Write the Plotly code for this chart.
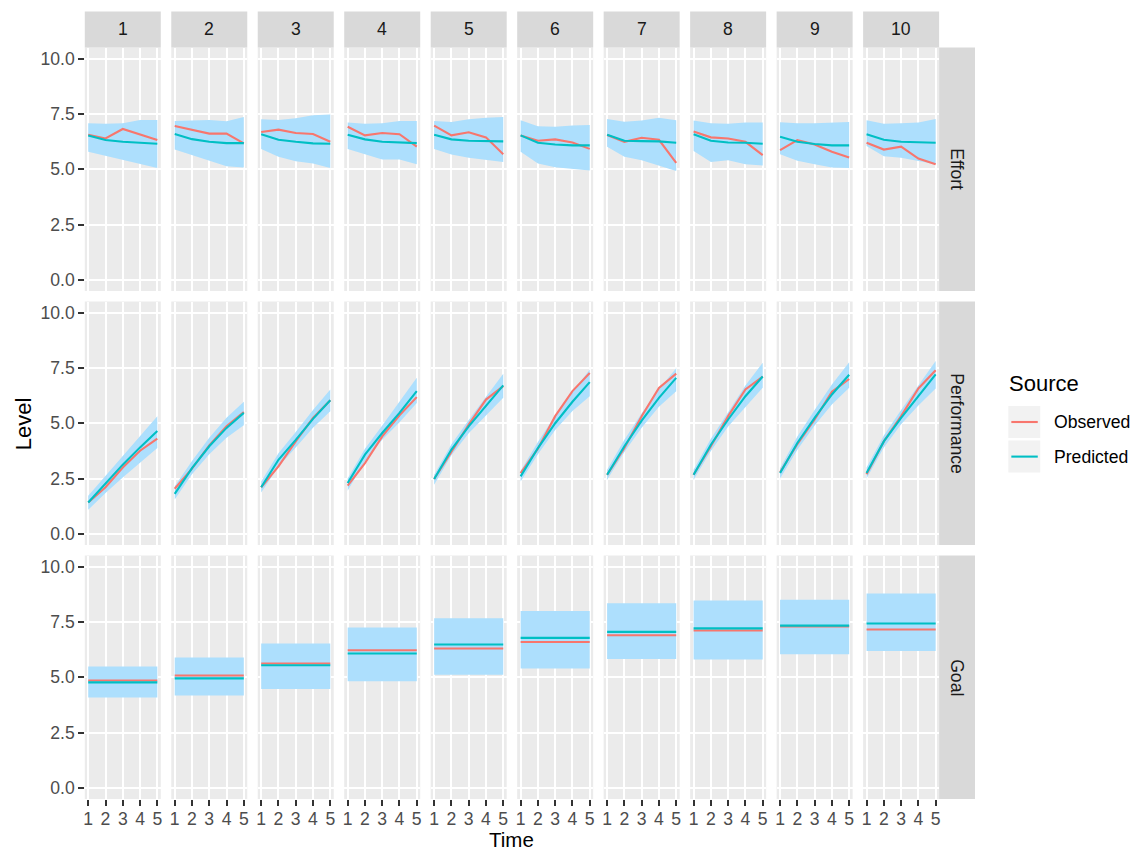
import plotly.graph_objects as go

# ---------------------------------------------------------------- data
time = [1, 2, 3, 4, 5]
groups = ["1", "2", "3", "4", "5", "6", "7", "8", "9", "10"]
measures = ["Effort", "Performance", "Goal"]
sources = ["Observed", "Predicted"]
y_ticks = [0, 2.5, 5, 7.5, 10]
y_tick_text = ["0.0", "2.5", "5.0", "7.5", "10.0"]

effort_obs = [
    [6.56, 6.39, 6.82, 6.58, 6.32],
    [6.95, 6.77, 6.61, 6.61, 6.17],
    [6.68, 6.79, 6.64, 6.59, 6.24],
    [6.92, 6.53, 6.64, 6.58, 6.02],
    [6.97, 6.53, 6.67, 6.44, 5.68],
    [6.53, 6.29, 6.35, 6.21, 5.92],
    [6.55, 6.24, 6.42, 6.33, 5.29],
    [6.70, 6.44, 6.39, 6.24, 5.64],
    [5.86, 6.32, 6.12, 5.79, 5.53],
    [6.20, 5.89, 6.02, 5.48, 5.23],
]
effort_pred = [
    [6.52, 6.32, 6.24, 6.18, 6.15],
    [6.59, 6.36, 6.24, 6.18, 6.18],
    [6.58, 6.33, 6.24, 6.17, 6.15],
    [6.56, 6.35, 6.24, 6.21, 6.18],
    [6.56, 6.35, 6.29, 6.26, 6.26],
    [6.53, 6.20, 6.12, 6.08, 6.08],
    [6.56, 6.29, 6.27, 6.26, 6.20],
    [6.58, 6.29, 6.21, 6.20, 6.15],
    [6.47, 6.24, 6.14, 6.08, 6.08],
    [6.58, 6.33, 6.24, 6.21, 6.20],
]
effort_lo = [
    [5.79, 5.61, 5.45, 5.26, 5.06],
    [5.89, 5.64, 5.41, 5.14, 5.08],
    [5.92, 5.56, 5.36, 5.26, 5.06],
    [5.92, 5.68, 5.44, 5.44, 5.23],
    [5.92, 5.67, 5.52, 5.41, 5.33],
    [5.79, 5.26, 5.09, 5.03, 4.94],
    [6.02, 5.56, 5.41, 5.18, 4.92],
    [5.82, 5.33, 5.41, 5.23, 5.17],
    [5.68, 5.38, 5.23, 5.08, 5.06],
    [6.05, 5.59, 5.52, 5.38, 5.23],
]
effort_hi = [
    [7.08, 7.05, 7.08, 7.23, 7.23],
    [7.18, 7.20, 7.23, 7.17, 7.36],
    [7.26, 7.23, 7.30, 7.44, 7.47],
    [7.11, 7.05, 7.08, 7.18, 7.18],
    [7.18, 7.14, 7.26, 7.33, 7.36],
    [7.21, 6.94, 6.92, 6.98, 7.00],
    [7.27, 7.15, 7.20, 7.33, 7.21],
    [7.20, 7.08, 7.05, 7.11, 7.11],
    [7.12, 7.08, 7.08, 7.11, 7.14],
    [7.21, 7.06, 7.08, 7.11, 7.27],
]

perf_obs = [
    [1.42, 2.11, 3.00, 3.76, 4.31],
    [2.04, 2.95, 4.00, 4.86, 5.51],
    [2.11, 3.05, 4.18, 5.24, 6.04],
    [2.18, 3.20, 4.41, 5.36, 6.18],
    [2.48, 3.73, 4.94, 6.07, 6.68],
    [2.75, 3.85, 5.32, 6.45, 7.27],
    [2.67, 3.88, 5.32, 6.60, 7.24],
    [2.67, 3.96, 5.32, 6.53, 7.11],
    [2.78, 4.06, 5.17, 6.42, 7.00],
    [2.70, 4.18, 5.32, 6.57, 7.39],
]
perf_pred = [
    [1.42, 2.28, 3.13, 3.91, 4.65],
    [1.81, 2.97, 3.96, 4.79, 5.47],
    [2.11, 3.35, 4.25, 5.20, 6.04],
    [2.30, 3.58, 4.56, 5.47, 6.45],
    [2.48, 3.81, 4.86, 5.77, 6.71],
    [2.60, 3.88, 5.00, 5.97, 6.86],
    [2.67, 3.96, 5.12, 6.15, 7.05],
    [2.67, 4.03, 5.17, 6.22, 7.11],
    [2.75, 4.11, 5.24, 6.30, 7.19],
    [2.75, 4.18, 5.24, 6.22, 7.21],
]
perf_lo = [
    [1.09, 1.85, 2.55, 3.20, 3.88],
    [1.55, 2.70, 3.60, 4.35, 4.91],
    [1.87, 3.05, 3.90, 4.80, 5.54],
    [1.95, 3.30, 4.25, 5.05, 5.92],
    [2.22, 3.55, 4.55, 5.35, 6.15],
    [2.37, 3.60, 4.70, 5.55, 6.22],
    [2.45, 3.70, 4.80, 5.75, 6.45],
    [2.45, 3.75, 4.85, 5.75, 6.60],
    [2.50, 3.80, 4.90, 5.85, 6.60],
    [2.50, 3.90, 4.95, 5.80, 6.57],
]
perf_hi = [
    [1.72, 2.62, 3.52, 4.42, 5.32],
    [2.15, 3.30, 4.35, 5.25, 5.97],
    [2.37, 3.65, 4.60, 5.60, 6.53],
    [2.50, 3.85, 4.90, 5.95, 7.05],
    [2.67, 4.05, 5.15, 6.20, 7.24],
    [2.85, 4.15, 5.35, 6.40, 7.43],
    [2.90, 4.25, 5.45, 6.55, 7.48],
    [2.90, 4.30, 5.50, 6.70, 7.73],
    [2.97, 4.40, 5.60, 6.75, 7.76],
    [3.00, 4.45, 5.60, 6.70, 7.81],
]

# goal is held constant over time within each group
goal_obs = [4.85, 5.08, 5.62, 6.22, 6.30, 6.59, 6.90, 7.11, 7.30, 7.16]
goal_pred = [4.77, 4.95, 5.54, 6.07, 6.48, 6.78, 7.05, 7.21, 7.33, 7.43]
goal_lo = [4.09, 4.17, 4.47, 4.82, 5.11, 5.39, 5.82, 5.80, 6.04, 6.19]
goal_hi = [5.48, 5.89, 6.53, 7.25, 7.66, 7.99, 8.34, 8.47, 8.50, 8.78]

# ---------------------------------------------------------------- styling
W, H = 1138, 852
FONT = "Liberation Sans, Arial, Helvetica, sans-serif"
COL_OBS = "#F8766D"
COL_PRED = "#00BFC4"
RIBBON = "rgb(173,223,253)"
PANEL_BG = "#EBEBEB"
STRIP_BG = "#D9D9D9"

LEFT, PITCH_X, PANEL_W = 84.0, 86.71, 76.2
TOP, PITCH_Y, PANEL_H = 47.5, 254.0, 243.5
STRIP = 36.0


def px_x(v):
    return v / W


def px_y(v):
    return 1 - v / H


def label(text, x, y, size, color="black", angle=0, xanchor="center",
          yanchor="middle"):
    return dict(text=text, xref="paper", yref="paper",
                x=px_x(x), y=px_y(y), xanchor=xanchor, yanchor=yanchor,
                textangle=angle, showarrow=False, borderpad=0,
                font=dict(family=FONT, size=size, color=color))


def series(measure, g):
    if measure == "Effort":
        return effort_obs[g], effort_pred[g], effort_lo[g], effort_hi[g]
    if measure == "Performance":
        return perf_obs[g], perf_pred[g], perf_lo[g], perf_hi[g]
    n = len(time)
    return ([goal_obs[g]] * n, [goal_pred[g]] * n,
            [goal_lo[g]] * n, [goal_hi[g]] * n)


fig = go.Figure()
layout = {}
shapes = []
annotations = []

for r, measure in enumerate(measures):
    y_top = TOP + r * PITCH_Y
    y_bot = y_top + PANEL_H
    for c, g in enumerate(groups):
        k = r * len(groups) + c + 1
        suffix = "" if k == 1 else str(k)
        xa, ya = "x" + suffix, "y" + suffix
        x_left = LEFT + c * PITCH_X
        x_right = x_left + PANEL_W

        obs, pred, lo, hi = series(measure, c)
        fig.add_trace(go.Scatter(x=time, y=lo, mode="lines",
                                 line=dict(width=0, color=RIBBON),
                                 showlegend=False, hoverinfo="skip",
                                 xaxis=xa, yaxis=ya))
        fig.add_trace(go.Scatter(x=time, y=hi, mode="lines",
                                 line=dict(width=0, color=RIBBON),
                                 fill="tonexty", fillcolor=RIBBON,
                                 showlegend=False, hoverinfo="skip",
                                 xaxis=xa, yaxis=ya))
        for name, vals, col in (("Observed", obs, COL_OBS),
                                ("Predicted", pred, COL_PRED)):
            fig.add_trace(go.Scatter(x=time, y=vals, mode="lines", name=name,
                                     line=dict(color=col, width=2.1),
                                     showlegend=False,
                                     xaxis=xa, yaxis=ya))

        bottom_row = r == len(measures) - 1
        first_col = c == 0
        layout["xaxis" + suffix] = dict(
            domain=[px_x(x_left), px_x(x_right)],
            range=[0.8, 5.2], anchor=ya,
            tickvals=time, ticktext=[str(t) for t in time],
            showgrid=True, gridcolor="white", gridwidth=2,
            zeroline=False, showline=False,
            ticks="outside" if bottom_row else "",
            ticklen=5.5, tickwidth=2.1, tickcolor="#333333",
            showticklabels=bottom_row, ticklabelstandoff=-2,
            tickfont=dict(family=FONT, size=17.6, color="#4D4D4D"),
            fixedrange=True,
        )
        layout["yaxis" + suffix] = dict(
            domain=[px_y(y_bot), px_y(y_top)],
            range=[-0.5, 10.5], anchor=xa,
            tickvals=y_ticks, ticktext=y_tick_text,
            showgrid=True, gridcolor="white", gridwidth=2,
            zeroline=False, showline=False,
            ticks="outside" if first_col else "",
            ticklen=5.5, tickwidth=2.1, tickcolor="#333333",
            showticklabels=first_col,
            tickfont=dict(family=FONT, size=17.6, color="#4D4D4D"),
            fixedrange=True,
        )

        # column strips along the top
        if r == 0:
            shapes.append(dict(type="rect", xref="paper", yref="paper",
                               x0=px_x(x_left), x1=px_x(x_right),
                               y0=px_y(y_top), y1=px_y(y_top - STRIP),
                               fillcolor=STRIP_BG, line=dict(width=0)))
            annotations.append(label(g, (x_left + x_right) / 2,
                                     y_top - STRIP / 2, 17.6, "#1A1A1A"))

    # row strips on the right
    x_edge = LEFT + (len(groups) - 1) * PITCH_X + PANEL_W
    shapes.append(dict(type="rect", xref="paper", yref="paper",
                       x0=px_x(x_edge), x1=px_x(x_edge + STRIP),
                       y0=px_y(y_bot), y1=px_y(y_top),
                       fillcolor=STRIP_BG, line=dict(width=0)))
    annotations.append(label(measure, x_edge + STRIP / 2,
                             (y_top + y_bot) / 2, 17.6, "#1A1A1A", angle=90))

# axis titles
panels_mid_x = LEFT + ((len(groups) - 1) * PITCH_X + PANEL_W) / 2
panels_mid_y = TOP + ((len(measures) - 1) * PITCH_Y + PANEL_H) / 2
annotations.append(label("Time", panels_mid_x, 852, 20.5, yanchor="bottom"))
annotations.append(label("Level", 22, panels_mid_y, 22, angle=-90))

# legend: title, grey key boxes with a line sample, labels
annotations.append(label("Source", 1010, 383, 22, xanchor="left"))
for i, (name, col) in enumerate(zip(sources, [COL_OBS, COL_PRED])):
    k_top = 406 + i * 34.6
    k_bot = k_top + 32.0
    k_mid = (k_top + k_bot) / 2
    shapes.append(dict(type="rect", xref="paper", yref="paper",
                       x0=px_x(1010), x1=px_x(1042),
                       y0=px_y(k_bot), y1=px_y(k_top),
                       fillcolor="#F2F2F2", line=dict(width=0)))
    shapes.append(dict(type="line", xref="paper", yref="paper",
                       x0=px_x(1013), x1=px_x(1039.5),
                       y0=px_y(k_mid), y1=px_y(k_mid),
                       line=dict(color=col, width=2.1)))
    annotations.append(label(name, 1055, k_mid, 17.6, xanchor="left"))

fig.update_layout(
    width=W, height=H,
    margin=dict(l=0, r=0, t=0, b=0),
    paper_bgcolor="white", plot_bgcolor=PANEL_BG,
    showlegend=False,
    shapes=shapes, annotations=annotations,
    font=dict(family=FONT),
    **layout,
)

fig.write_html("out.html")
